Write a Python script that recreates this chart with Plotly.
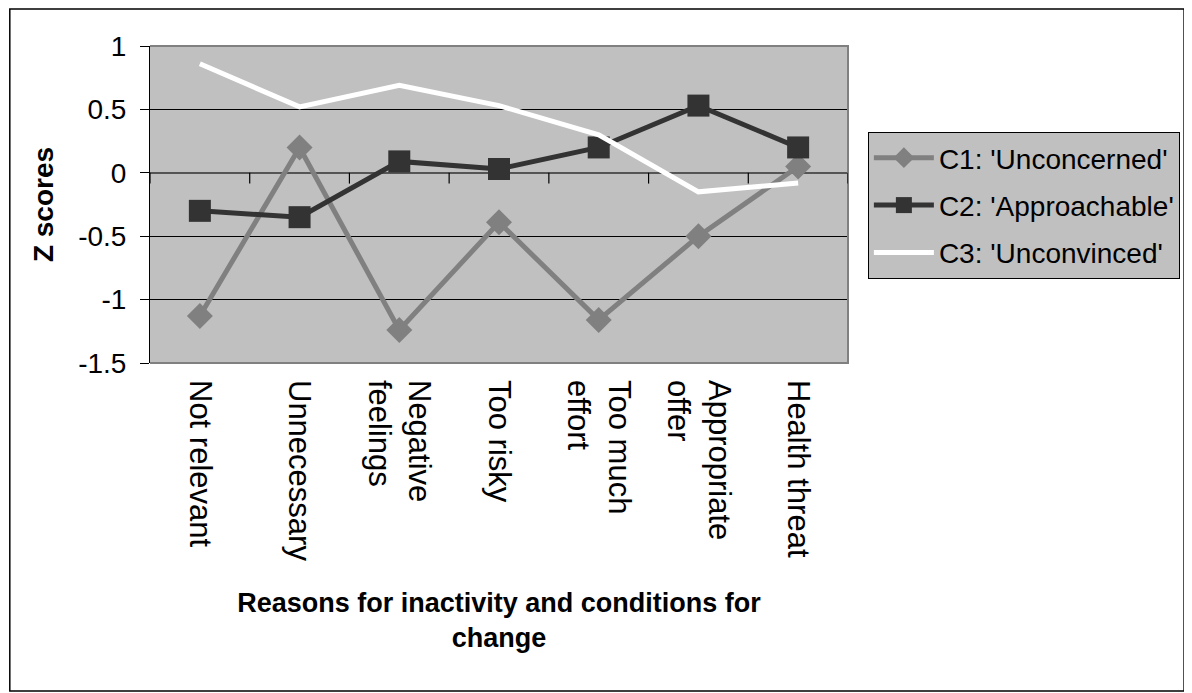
import plotly.graph_objects as go

categories = ["Not relevant", "Unnecessary", "Negative<br>feelings", "Too risky",
              "Too much<br>effort", "Appropriate<br>offer", "Health threat"]
c1_unconcerned = [-1.13, 0.20, -1.24, -0.39, -1.16, -0.50, 0.05]
c2_approachable = [-0.30, -0.35, 0.09, 0.03, 0.20, 0.53, 0.20]
c3_unconvinced = [0.86, 0.52, 0.69, 0.53, 0.30, -0.15, -0.08]
series_names = ["C1: 'Unconcerned'", "C2: 'Approachable'", "C3: 'Unconvinced'"]
y_tick_vals = [1, 0.5, 0, -0.5, -1, -1.5]
y_tick_text = ["1", "0.5", "0", "-0.5", "-1", "-1.5"]

OFF = 8  # page body margin offset
W, H = 1192 - OFF, 693 - OFF
L, R, T, B = 150 - OFF, 852 - OFF, 46 - OFF, 363 - OFF  # plot area in figure pixels

FONT = "Liberation Sans, Arial, sans-serif"

fig = go.Figure()
fig.add_trace(go.Scatter(
    x=categories, y=c1_unconcerned, name=series_names[0], mode="lines+markers",
    line=dict(color="#808080", width=5),
    marker=dict(symbol="diamond", size=20, color="#808080"),
    legendgroup="g1"))
fig.add_trace(go.Scatter(
    x=categories, y=c2_approachable, name=series_names[1], mode="lines+markers",
    line=dict(color="#333333", width=5),
    marker=dict(symbol="square", size=22, color="#333333"),
    legendgroup="g2"))
fig.add_trace(go.Scatter(
    x=categories, y=c3_unconvinced, name=series_names[2], mode="lines",
    line=dict(color="#FFFFFF", width=5),
    legendgroup="g3"))

pw, ph = R - L, B - T
def fx(x):  # figure pixel x -> paper
    return (x - L) / pw
def fy(y):  # figure pixel y -> paper
    return (B - y) / ph
def px(x):  # page pixel -> paper
    return fx(x - OFF)
def py(y):
    return fy(y - OFF)

shapes = []
# outer chart border
shapes.append(dict(type="rect", xref="paper", yref="paper",
                   x0=fx(1), x1=px(1190), y0=py(691), y1=fy(1),
                   line=dict(color="#000000", width=1.5), layer="below"))
# plot area border (top, right, bottom)
shapes.append(dict(type="path", xref="paper", yref="paper",
                   path="M 0,1 L 1,1 L 1,0 L 0,0",
                   line=dict(color="#808080", width=2), layer="above"))
# category boundary tick marks on the zero line
n = len(categories)
for i in range(n + 1):
    shapes.append(dict(type="line", xref="x", yref="y",
                       x0=i - 0.5, x1=i - 0.5, y0=0, y1=-0.085,
                       line=dict(color="#000000", width=1.2), layer="above"))

fig.update_layout(
    width=W, height=H,
    margin=dict(l=L, r=W - R, t=T, b=H - B, pad=0),
    paper_bgcolor="#FFFFFF",
    plot_bgcolor="#C0C0C0",
    font=dict(family=FONT, color="#000000"),
    shapes=shapes,
    showlegend=True,
    legend=dict(
        x=px(872), y=py(132), xanchor="left", yanchor="top",
        bgcolor="#C0C0C0", bordercolor="#000000", borderwidth=1,
        font=dict(size=28, family=FONT, color="#000000"),
        itemwidth=60, tracegroupgap=8, traceorder="grouped",
    ),
    xaxis=dict(
        type="category", range=[-0.5, n - 0.5],
        showgrid=False, zeroline=False, showline=False, ticks="",
        tickangle=90, tickfont=dict(size=31, family=FONT),
        ticklabelstandoff=16,
        title=dict(text="<b>Reasons for inactivity and conditions for<br>change</b>",
                   font=dict(size=27, family=FONT), standoff=32),
        automargin=False,
    ),
    yaxis=dict(
        range=[-1.5, 1], tickvals=y_tick_vals, ticktext=y_tick_text,
        showgrid=True, gridcolor="#000000", gridwidth=1,
        zeroline=True, zerolinecolor="#555555", zerolinewidth=2,
        showline=True, linecolor="#000000", linewidth=1,
        ticks="outside", ticklen=9, tickcolor="#000000",
        tickfont=dict(size=28, family=FONT),
        ticklabelstandoff=8,
        title=dict(text="<b>Z scores</b>", font=dict(size=28, family=FONT), standoff=16),
        automargin=False,
    ),
)

fig.write_html("out.html")
